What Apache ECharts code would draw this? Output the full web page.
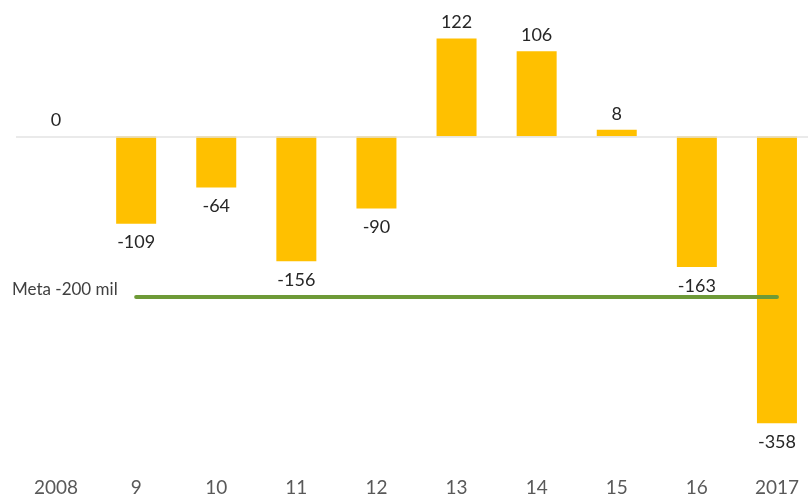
<!DOCTYPE html>
<html>
<head>
<meta charset="utf-8">
<script src="https://cdn.jsdelivr.net/npm/echarts@6/dist/echarts.min.js"></script>
<style>
    html, body { margin: 0; padding: 0; background: #fff; }
    #chart1 { width: 808px; height: 494px; }
</style>
</head>
<body>
<div id="chart1"></div>
<script>
var categories = ["2008", "9", "10", "11", "12", "13", "14", "15", "16", "2017"];
var values = [0, -109, -64, -156, -90, 122, 106, 8, -163, -358];
var metaValue = -200;
var metaLabel = "Meta -200 mil";

var myChart = echarts.init(document.getElementById("chart1"));

// positivos arriba, negativos abajo
var barData = values.map(function (v) {
    return {
        value: v,
        label: v < 0 ? { position: "bottom", distance: 10 } : { position: "top", distance: 7 }
    };
});

option = {
    animation: false,
    grid: { left: 16, top: 0, width: 801, height: 473, outerBoundsMode: "none", containLabel: false },
    textStyle: { fontFamily: "Lato" },
    xAxis: {
        type: "category",
        data: categories,
        position: "bottom",
        axisLine: { show: false },
        axisTick: { show: false },
        axisLabel: { color: "#595959", fontSize: 19, margin: 5, fontFamily: "Lato" }
    },
    yAxis: {
        type: "value",
        min: -420,
        max: 170,
        show: false,
        splitLine: { show: false }
    },
    graphic: [{
        type: "text",
        left: 12,
        top: 281,
        style: { text: metaLabel, fill: "#404040", font: "17px Lato" }
    }],
    series: [{
        type: "bar",
        data: barData,
        barWidth: 40,
        itemStyle: { color: "#FFC000" },
        label: {
            show: true,
            color: "#262626",
            fontSize: 18,
            fontFamily: "Lato"
        },
        markLine: {
            silent: true,
            symbol: "none",
            label: { show: false },
            data: [
                { yAxis: 0, lineStyle: { color: "#e3e3e3", width: 1.5, type: "solid" } },
                [
                    { coord: ["9", metaValue], lineStyle: { color: "#6E9A37", width: 4, type: "solid", cap: "round" } },
                    { coord: ["2017", metaValue] }
                ]
            ]
        }
    }]
};
myChart.setOption(option);
</script>
</body>
</html>
